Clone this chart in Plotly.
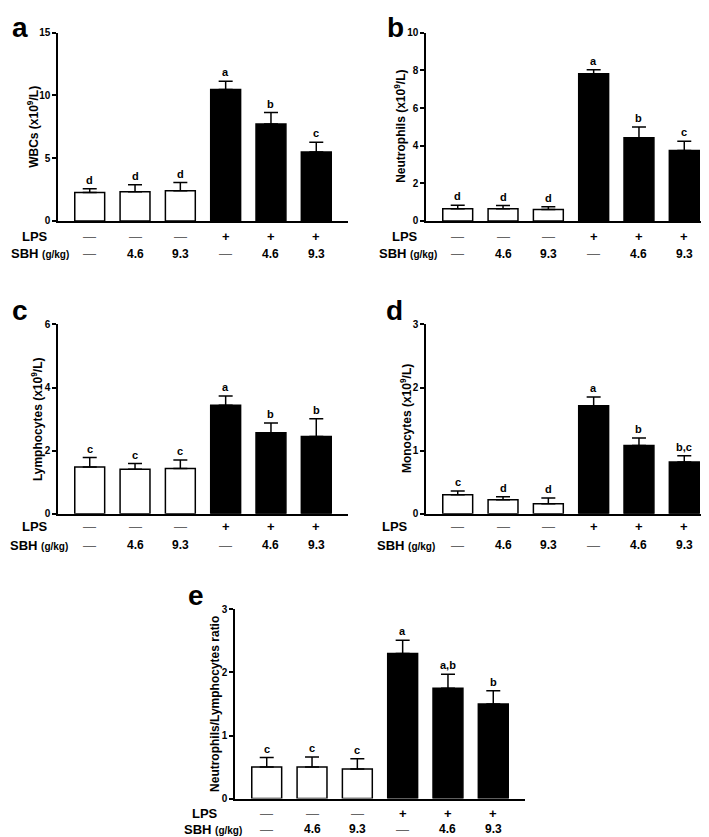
import plotly.graph_objects as go

W, H = 709, 837

groups = ["Control", "SBH 4.6", "SBH 9.3", "LPS", "LPS+SBH 4.6", "LPS+SBH 9.3"]
lps_row = ["—", "—", "—", "+", "+", "+"]
sbh_row = ["—", "4.6", "9.3", "—", "4.6", "9.3"]

wbc_mean = [2.28, 2.33, 2.41, 10.47, 7.72, 5.50]
wbc_sem = [0.29, 0.55, 0.65, 0.66, 0.92, 0.78]
wbc_letters = ["d", "d", "d", "a", "b", "c"]

neu_mean = [0.65, 0.65, 0.61, 7.82, 4.42, 3.75]
neu_sem = [0.19, 0.17, 0.14, 0.21, 0.57, 0.49]
neu_letters = ["d", "d", "d", "a", "b", "c"]

lym_mean = [1.48, 1.41, 1.43, 3.44, 2.57, 2.45]
lym_sem = [0.30, 0.18, 0.27, 0.29, 0.31, 0.56]
lym_letters = ["c", "c", "c", "a", "b", "b"]

mon_mean = [0.30, 0.22, 0.16, 1.71, 1.08, 0.82]
mon_sem = [0.06, 0.05, 0.09, 0.14, 0.12, 0.10]
mon_letters = ["c", "d", "d", "a", "b", "b,c"]

nlr_mean = [0.50, 0.50, 0.47, 2.30, 1.75, 1.50]
nlr_sem = [0.15, 0.16, 0.16, 0.21, 0.22, 0.21]
nlr_letters = ["c", "c", "c", "a", "a,b", "b"]

FONT = "Arial, Liberation Sans, sans-serif"
SUP = "(x10<sup>9</sup>/L)"

# panel geometry in pixels: (x_left, x_right, y_top, y_bottom)
panels = [
    dict(key="a", mean=wbc_mean, sem=wbc_sem, letters=wbc_letters, ymax=15, dtick=5,
         title="WBCs " + SUP, box=(50, 340, 19, 210), title_x=25,
         lab=(12, 14), lps=(27, 226), sbh=(32, 243)),
    dict(key="b", mean=neu_mean, sem=neu_sem, letters=neu_letters, ymax=10, dtick=2,
         title="Neutrophils " + SUP, box=(418, 708, 19, 210), title_x=392,
         lab=(387, 14), lps=(397, 226), sbh=(400, 243)),
    dict(key="c", mean=lym_mean, sem=lym_sem, letters=lym_letters, ymax=6, dtick=2,
         title="Lymphocytes " + SUP, box=(50, 340, 315, 507), title_x=29,
         lab=(12, 301), lps=(27, 520), sbh=(31, 539)),
    dict(key="d", mean=mon_mean, sem=mon_sem, letters=mon_letters, ymax=3, dtick=1,
         title="Monocytes " + SUP, box=(418, 708, 315, 507), title_x=398,
         lab=(386, 301), lps=(387, 520), sbh=(398, 539)),
    dict(key="e", mean=nlr_mean, sem=nlr_sem, letters=nlr_letters, ymax=3, dtick=1,
         title="Neutrophils/Lymphocytes ratio", box=(227, 517, 604, 796), title_x=207,
         lab=(188, 590), lps=(197, 811), sbh=(205, 827)),
]

fig = go.Figure()
annotations = []
layout = {}

bar_colors = ["black" if v == "+" else "white" for v in lps_row]

for i, p in enumerate(panels):
    n = "" if i == 0 else str(i + 1)
    xa, ya = "x" + n, "y" + n
    x0, x1, yt, yb = p["box"]
    fig.add_trace(go.Bar(
        x=groups, y=p["mean"], xaxis=xa, yaxis=ya, width=0.66,
        marker=dict(color=bar_colors, line=dict(color="black", width=1.5)),
        error_y=dict(type="data", symmetric=False, array=p["sem"],
                     arrayminus=[0] * len(groups), color="black", thickness=1.5, width=7),
        showlegend=False, hoverinfo="skip",
    ))
    layout["xaxis" + n] = dict(
        domain=[x0 / W, x1 / W], anchor=ya, type="category",
        range=[-0.7, len(groups) - 0.3], showline=True, linecolor="black", linewidth=1.5,
        showticklabels=False, ticks="", showgrid=False, zeroline=False, fixedrange=True,
    )
    layout["yaxis" + n] = dict(
        domain=[1 - yb / H, 1 - yt / H], anchor=xa, range=[0, p["ymax"]], dtick=p["dtick"],
        showline=True, linecolor="black", linewidth=1.5, ticks="outside", ticklen=4,
        tickwidth=1.5, tickcolor="black", showgrid=False, zeroline=False,
        tickfont=dict(family=FONT, size=10, color="black", weight="bold"), fixedrange=True,
    )
    # significance letters
    for g, m, s, L in zip(groups, p["mean"], p["sem"], p["letters"]):
        annotations.append(dict(x=g, y=m + s, xref=xa, yref=ya, text="<b>%s</b>" % L,
                                showarrow=False, yanchor="bottom", yshift=1,
                                font=dict(family=FONT, size=11, color="black")))
    # treatment rows
    for g, lv, sv in zip(groups, lps_row, sbh_row):
        for val, ypx in ((lv, p["lps"][1]), (sv, p["sbh"][1])):
            if val == "—":
                txt, col, sz = "—", "#666666", 13
            elif val == "+":
                txt, col, sz = "<b>+</b>", "black", 13
            else:
                txt, col, sz = "<b>%s</b>" % val, "black", 12
            annotations.append(dict(x=g, y=1 - ypx / H, xref=xa, yref="paper", text=txt,
                                    showarrow=False, yanchor="middle",
                                    font=dict(family=FONT, size=sz, color=col)))
    annotations.append(dict(x=p["lps"][0] / W, y=1 - p["lps"][1] / H, xref="paper", yref="paper",
                            text="<b>LPS</b>", showarrow=False, xanchor="center", yanchor="middle",
                            font=dict(family=FONT, size=13, color="black")))
    annotations.append(dict(x=p["sbh"][0] / W, y=1 - p["sbh"][1] / H, xref="paper", yref="paper",
                            text="<b>SBH</b> <b><span style='font-size:10px'>(g/kg)</span></b>",
                            showarrow=False, xanchor="center", yanchor="middle",
                            font=dict(family=FONT, size=13, color="black")))
    # y title
    annotations.append(dict(x=p["title_x"] / W, y=1 - (yt + yb) / 2 / H, xref="paper", yref="paper",
                            text="<b>%s</b>" % p["title"], textangle=-90, showarrow=False,
                            xanchor="center", yanchor="middle",
                            font=dict(family=FONT, size=12, color="black")))
    # panel label
    annotations.append(dict(x=p["lab"][0] / W, y=1 - p["lab"][1] / H, xref="paper", yref="paper",
                            text="<b>%s</b>" % p["key"], showarrow=False,
                            xanchor="center", yanchor="middle",
                            font=dict(family=FONT, size=28, color="black")))

fig.update_layout(
    width=W, height=H, margin=dict(l=0, r=0, t=0, b=0),
    paper_bgcolor="white", plot_bgcolor="white",
    annotations=annotations, font=dict(family=FONT, color="black"),
    **layout,
)

fig.write_html("out.html")
